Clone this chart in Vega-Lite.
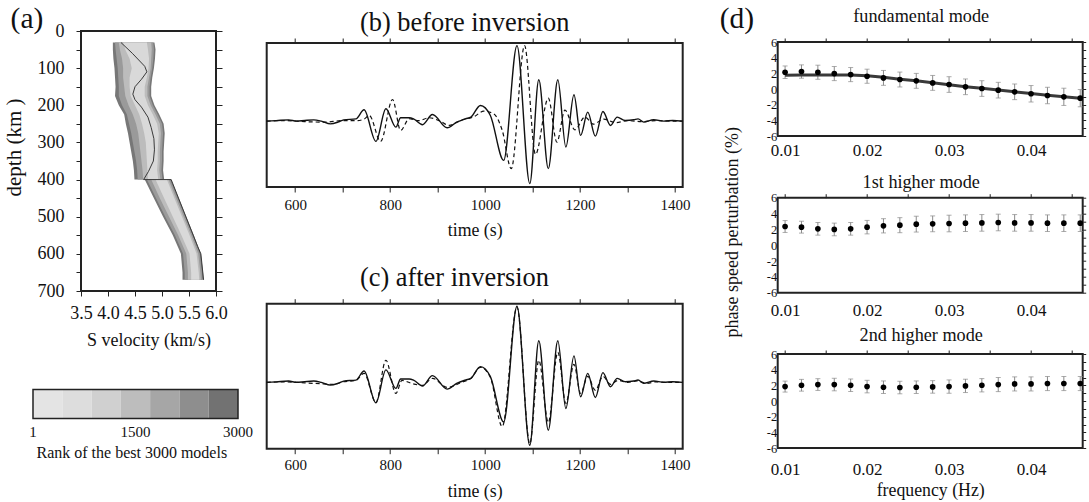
{
  "$schema": "https://vega.github.io/schema/vega-lite/v6.json",
  "background": "white",
  "padding": {"left": 2, "top": 0, "right": 0, "bottom": 0},
  "config": {
    "font": "Liberation Serif",
    "view": {"stroke": "#222", "strokeWidth": 2},
    "axis": {"domain": false, "grid": false, "labelFont": "Liberation Serif", "titleFont": "Liberation Serif", "labelColor": "#111", "titleColor": "#111", "tickColor": "#222", "titleFontWeight": "normal", "labelFlush": false, "labelOverlap": false, "tickWidth": 1},
    "title": {"font": "Liberation Serif", "fontWeight": "normal", "color": "#111"}
  },
  "datasets": {
    "obs": [{"t":540,"a":0},{"t":560,"a":0.5},{"t":586,"a":1.3},{"t":603,"a":0},{"t":620,"a":0.7},{"t":639,"a":1.3},{"t":655,"a":0},{"t":674,"a":-2.7},{"t":690,"a":-1},{"t":702,"a":1.3},{"t":728,"a":2.3},{"t":745,"a":11.4},{"t":770,"a":-20.3},{"t":791,"a":12.4},{"t":812,"a":-6},{"t":822,"a":3.4},{"t":840,"a":3.4},{"t":850,"a":2},{"t":868,"a":-3.6},{"t":889,"a":6.7},{"t":920,"a":-6.7},{"t":940,"a":-1},{"t":959,"a":2.4},{"t":970,"a":4},{"t":990,"a":15.7},{"t":1011,"a":5.7},{"t":1039,"a":-39.3},{"t":1067,"a":75.7},{"t":1094,"a":-62.6},{"t":1113,"a":41.4},{"t":1133,"a":-47.6},{"t":1153,"a":41.4},{"t":1170,"a":-26},{"t":1187,"a":26.4},{"t":1201,"a":-14.3},{"t":1216,"a":9},{"t":1232,"a":-15},{"t":1248,"a":9.7},{"t":1264,"a":-4.3},{"t":1278,"a":4},{"t":1295,"a":0.7},{"t":1313,"a":1.4},{"t":1322,"a":2.3},{"t":1334,"a":-1},{"t":1355,"a":1.4},{"t":1376,"a":0},{"t":1395,"a":0.7},{"t":1416,"a":0}],
    "synB": [{"t":540,"a":0},{"t":580,"a":0.5},{"t":620,"a":-0.5},{"t":660,"a":-1},{"t":700,"a":0.5},{"t":730,"a":0.5},{"t":745,"a":2},{"t":756,"a":5.7},{"t":780,"a":-20.3},{"t":805,"a":21.7},{"t":822,"a":-9.3},{"t":840,"a":2.4},{"t":860,"a":0.5},{"t":882,"a":3.4},{"t":905,"a":0},{"t":924,"a":-4.3},{"t":952,"a":1.4},{"t":975,"a":4},{"t":997,"a":10},{"t":1018,"a":7.4},{"t":1036,"a":-9.3},{"t":1055,"a":-47.6},{"t":1083,"a":75.7},{"t":1106,"a":-33.3},{"t":1133,"a":23},{"t":1151,"a":-21},{"t":1168,"a":11},{"t":1189,"a":-8.7},{"t":1210,"a":4},{"t":1228,"a":-3},{"t":1250,"a":2},{"t":1275,"a":-1.5},{"t":1300,"a":0.5},{"t":1330,"a":-0.5},{"t":1360,"a":0.5},{"t":1390,"a":0},{"t":1416,"a":0}],
    "synC": [{"t":540,"a":0},{"t":580,"a":0.5},{"t":620,"a":-0.5},{"t":660,"a":-1.5},{"t":680,"a":-2},{"t":700,"a":0.5},{"t":728,"a":2},{"t":745,"a":9},{"t":770,"a":-20},{"t":791,"a":22},{"t":812,"a":-11},{"t":825,"a":2},{"t":845,"a":-1},{"t":868,"a":-3},{"t":889,"a":4},{"t":920,"a":-5},{"t":950,"a":0},{"t":970,"a":4},{"t":990,"a":15},{"t":1011,"a":5},{"t":1036,"a":-44},{"t":1067,"a":75},{"t":1094,"a":-61},{"t":1113,"a":22},{"t":1133,"a":-40},{"t":1153,"a":30},{"t":1170,"a":-21},{"t":1187,"a":18},{"t":1201,"a":-11},{"t":1216,"a":6},{"t":1232,"a":-8},{"t":1248,"a":6},{"t":1264,"a":-2},{"t":1280,"a":2},{"t":1300,"a":0},{"t":1320,"a":1.5},{"t":1340,"a":-1},{"t":1360,"a":0.5},{"t":1390,"a":0},{"t":1416,"a":0}],
    "fan": [
      {"depth":31,"b1lo":4.09,"b1hi":4.86,"b2lo":4.13,"b2hi":4.84,"b3lo":4.2,"b3hi":4.8,"b4lo":4.28,"b4hi":4.72},
      {"depth":50,"b1lo":4.09,"b1hi":4.88,"b2lo":4.14,"b2hi":4.85,"b3lo":4.22,"b3hi":4.81,"b4lo":4.32,"b4hi":4.74},
      {"depth":75,"b1lo":4.1,"b1hi":4.87,"b2lo":4.16,"b2hi":4.84,"b3lo":4.26,"b3hi":4.8,"b4lo":4.4,"b4hi":4.76},
      {"depth":100,"b1lo":4.12,"b1hi":4.85,"b2lo":4.18,"b2hi":4.82,"b3lo":4.28,"b3hi":4.79,"b4lo":4.44,"b4hi":4.75},
      {"depth":125,"b1lo":4.13,"b1hi":4.82,"b2lo":4.19,"b2hi":4.79,"b3lo":4.28,"b3hi":4.76,"b4lo":4.4,"b4hi":4.72},
      {"depth":150,"b1lo":4.14,"b1hi":4.8,"b2lo":4.2,"b2hi":4.77,"b3lo":4.3,"b3hi":4.73,"b4lo":4.4,"b4hi":4.68},
      {"depth":175,"b1lo":4.13,"b1hi":4.8,"b2lo":4.2,"b2hi":4.77,"b3lo":4.32,"b3hi":4.73,"b4lo":4.42,"b4hi":4.68},
      {"depth":200,"b1lo":4.2,"b1hi":4.86,"b2lo":4.26,"b2hi":4.83,"b3lo":4.38,"b3hi":4.79,"b4lo":4.5,"b4hi":4.74},
      {"depth":225,"b1lo":4.3,"b1hi":4.95,"b2lo":4.35,"b2hi":4.92,"b3lo":4.46,"b3hi":4.88,"b4lo":4.58,"b4hi":4.83},
      {"depth":250,"b1lo":4.33,"b1hi":5.03,"b2lo":4.39,"b2hi":5.0,"b3lo":4.52,"b3hi":4.96,"b4lo":4.63,"b4hi":4.91},
      {"depth":275,"b1lo":4.37,"b1hi":5.05,"b2lo":4.43,"b2hi":5.02,"b3lo":4.56,"b3hi":4.98,"b4lo":4.67,"b4hi":4.94},
      {"depth":300,"b1lo":4.4,"b1hi":5.04,"b2lo":4.46,"b2hi":5.01,"b3lo":4.58,"b3hi":4.97,"b4lo":4.7,"b4hi":4.93},
      {"depth":325,"b1lo":4.43,"b1hi":5.03,"b2lo":4.49,"b2hi":5.0,"b3lo":4.6,"b3hi":4.96,"b4lo":4.71,"b4hi":4.92},
      {"depth":350,"b1lo":4.46,"b1hi":5.03,"b2lo":4.52,"b2hi":5.0,"b3lo":4.62,"b3hi":4.96,"b4lo":4.72,"b4hi":4.92},
      {"depth":375,"b1lo":4.48,"b1hi":5.02,"b2lo":4.54,"b2hi":4.99,"b3lo":4.64,"b3hi":4.95,"b4lo":4.73,"b4hi":4.91},
      {"depth":400,"b1lo":4.49,"b1hi":5.04,"b2lo":4.55,"b2hi":5.01,"b3lo":4.65,"b3hi":4.97,"b4lo":4.74,"b4hi":4.93},
      {"depth":400.01,"b1lo":4.68,"b1hi":5.17,"b2lo":4.72,"b2hi":5.15,"b3lo":4.8,"b3hi":5.12,"b4lo":4.88,"b4hi":5.09},
      {"depth":450,"b1lo":4.85,"b1hi":5.31,"b2lo":4.89,"b2hi":5.29,"b3lo":4.96,"b3hi":5.26,"b4lo":5.04,"b4hi":5.23},
      {"depth":500,"b1lo":5.02,"b1hi":5.45,"b2lo":5.06,"b2hi":5.43,"b3lo":5.13,"b3hi":5.4,"b4lo":5.2,"b4hi":5.37},
      {"depth":550,"b1lo":5.2,"b1hi":5.59,"b2lo":5.24,"b2hi":5.57,"b3lo":5.3,"b3hi":5.54,"b4lo":5.36,"b4hi":5.51},
      {"depth":600,"b1lo":5.35,"b1hi":5.72,"b2lo":5.39,"b2hi":5.7,"b3lo":5.45,"b3hi":5.67,"b4lo":5.51,"b4hi":5.64},
      {"depth":650,"b1lo":5.38,"b1hi":5.76,"b2lo":5.42,"b2hi":5.74,"b3lo":5.48,"b3hi":5.71,"b4lo":5.54,"b4hi":5.68},
      {"depth":670,"b1lo":5.38,"b1hi":5.77,"b2lo":5.42,"b2hi":5.75,"b3lo":5.48,"b3hi":5.72,"b4lo":5.54,"b4hi":5.69}
    ],
    "best": [{"k":1,"v":4.24,"depth":31},{"k":2,"v":4.45,"depth":60},{"k":3,"v":4.68,"depth":95},{"k":4,"v":4.72,"depth":110},{"k":5,"v":4.62,"depth":130},{"k":6,"v":4.5,"depth":150},{"k":7,"v":4.46,"depth":170},{"k":8,"v":4.5,"depth":185},{"k":9,"v":4.62,"depth":205},{"k":10,"v":4.74,"depth":232},{"k":11,"v":4.8,"depth":260},{"k":12,"v":4.85,"depth":290},{"k":13,"v":4.86,"depth":320},{"k":14,"v":4.84,"depth":350},{"k":15,"v":4.75,"depth":378},{"k":16,"v":4.66,"depth":400},{"k":17,"v":5.17,"depth":400},{"k":18,"v":5.66,"depth":580},{"k":19,"v":5.72,"depth":600},{"k":20,"v":5.77,"depth":670}],
    "bins": [{"bin":1,"lo":0,"hi":429},{"bin":2,"lo":429,"hi":857},{"bin":3,"lo":857,"hi":1286},{"bin":4,"lo":1286,"hi":1714},{"bin":5,"lo":1714,"hi":2143},{"bin":6,"lo":2143,"hi":2571},{"bin":7,"lo":2571,"hi":3000}],
    "ranklabels": [{"rank":1},{"rank":1500},{"rank":3000}],
    "fund": [{"f":0.010,"v":2.14,"err":0.8,"pred":1.75},{"f":0.012,"v":2.23,"err":0.85,"pred":1.78},{"f":0.014,"v":2.14,"err":0.9,"pred":1.8},{"f":0.016,"v":1.97,"err":0.9,"pred":1.8},{"f":0.018,"v":1.84,"err":0.9,"pred":1.8},{"f":0.020,"v":1.63,"err":0.9,"pred":1.7},{"f":0.022,"v":1.42,"err":0.95,"pred":1.5},{"f":0.024,"v":1.21,"err":0.95,"pred":1.25},{"f":0.026,"v":1.04,"err":0.95,"pred":1.05},{"f":0.028,"v":0.78,"err":0.95,"pred":0.8},{"f":0.030,"v":0.57,"err":1.0,"pred":0.55},{"f":0.032,"v":0.28,"err":1.0,"pred":0.3},{"f":0.034,"v":0.06,"err":1.0,"pred":0.1},{"f":0.036,"v":-0.15,"err":1.0,"pred":-0.12},{"f":0.038,"v":-0.36,"err":1.0,"pred":-0.35},{"f":0.040,"v":-0.61,"err":1.05,"pred":-0.57},{"f":0.042,"v":-0.83,"err":1.05,"pred":-0.8},{"f":0.044,"v":-1.0,"err":1.1,"pred":-0.98},{"f":0.046,"v":-1.17,"err":1.1,"pred":-1.17}],
    "m1": [{"f":0.010,"v":2.36,"err":0.75},{"f":0.012,"v":2.28,"err":0.75},{"f":0.014,"v":2.07,"err":0.8},{"f":0.016,"v":1.99,"err":0.8},{"f":0.018,"v":2.07,"err":0.8},{"f":0.020,"v":2.28,"err":0.85},{"f":0.022,"v":2.45,"err":0.9},{"f":0.024,"v":2.53,"err":0.95},{"f":0.026,"v":2.66,"err":1.0},{"f":0.028,"v":2.7,"err":1.0},{"f":0.030,"v":2.74,"err":1.05},{"f":0.032,"v":2.78,"err":1.05},{"f":0.034,"v":2.82,"err":1.05},{"f":0.036,"v":2.87,"err":1.05},{"f":0.038,"v":2.82,"err":1.05},{"f":0.040,"v":2.82,"err":1.05},{"f":0.042,"v":2.78,"err":1.05},{"f":0.044,"v":2.78,"err":1.05},{"f":0.046,"v":2.78,"err":1.05}],
    "m2": [{"f":0.010,"v":1.84,"err":0.7},{"f":0.012,"v":2.01,"err":0.75},{"f":0.014,"v":2.1,"err":0.75},{"f":0.016,"v":2.1,"err":0.8},{"f":0.018,"v":2.01,"err":0.8},{"f":0.020,"v":1.84,"err":0.8},{"f":0.022,"v":1.76,"err":0.8},{"f":0.024,"v":1.72,"err":0.8},{"f":0.026,"v":1.76,"err":0.8},{"f":0.028,"v":1.8,"err":0.8},{"f":0.030,"v":1.84,"err":0.85},{"f":0.032,"v":1.93,"err":0.85},{"f":0.034,"v":2.01,"err":0.85},{"f":0.036,"v":2.1,"err":0.9},{"f":0.038,"v":2.18,"err":0.9},{"f":0.040,"v":2.18,"err":0.9},{"f":0.042,"v":2.23,"err":0.9},{"f":0.044,"v":2.23,"err":0.9},{"f":0.046,"v":2.23,"err":0.9}]
  },
  "spacing": 9.7,
  "hconcat": [
    {
      "spacing": 37.5,
      "vconcat": [
        {
          "spacing": 0,
          "vconcat": [
            {"width": 1, "height": 0.5, "view": {"stroke": null}, "data": {"values": [{}]}, "mark": {"type": "point", "opacity": 0, "size": 1}},
            {
              "width": 135, "height": 260,
              "title": {"text": "(a)", "anchor": "start", "fontSize": 29.5, "dx": 7.6, "offset": -12},
              "data": {"name": "fan"},
              "layer": [
                {"mark": {"type": "area", "orient": "horizontal", "color": "#777777"},
                 "encoding": {
                   "y": {"field": "depth", "type": "quantitative", "scale": {"domain": [0, 700], "reverse": true, "nice": false},
                         "axis": {"orient": "left", "values": [0,50,100,150,200,250,300,350,400,450,500,550,600,650,700], "labelExpr": "datum.value % 100 === 0 ? datum.label : ''", "tickSize": 5, "labelPadding": 12, "labelFontSize": 18, "title": "depth (km )", "titleFontSize": 21, "titlePadding": 13, "titleY": 116}},
                   "x": {"field": "b1lo", "type": "quantitative", "stack": null, "scale": {"domain": [3.5, 6], "nice": false, "zero": false},
                         "axis": {"orient": "bottom", "values": [3.5,4,4.5,5,5.5,6], "format": ".1f", "tickSize": 5, "labelPadding": 8, "labelFontSize": 18, "title": "S velocity (km/s)", "titleFontSize": 18, "titlePadding": 9.4}},
                   "x2": {"field": "b1hi"}}},
                {"mark": {"type": "area", "orient": "horizontal", "color": "#9a9a9a"},
                 "encoding": {
                   "y": {"field": "depth", "type": "quantitative", "scale": {"domain": [0, 700], "reverse": true, "nice": false}, "axis": null},
                   "x": {"field": "b2lo", "type": "quantitative", "stack": null, "scale": {"domain": [3.5, 6], "nice": false, "zero": false}, "axis": null},
                   "x2": {"field": "b2hi"}}},
                {"mark": {"type": "area", "orient": "horizontal", "color": "#bcbcbc"},
                 "encoding": {
                   "y": {"field": "depth", "type": "quantitative", "scale": {"domain": [0, 700], "reverse": true, "nice": false}, "axis": null},
                   "x": {"field": "b3lo", "type": "quantitative", "stack": null, "scale": {"domain": [3.5, 6], "nice": false, "zero": false}, "axis": null},
                   "x2": {"field": "b3hi"}}},
                {"mark": {"type": "area", "orient": "horizontal", "color": "#d9d9d9"},
                 "encoding": {
                   "y": {"field": "depth", "type": "quantitative", "scale": {"domain": [0, 700], "reverse": true, "nice": false}, "axis": null},
                   "x": {"field": "b4lo", "type": "quantitative", "stack": null, "scale": {"domain": [3.5, 6], "nice": false, "zero": false}, "axis": null},
                   "x2": {"field": "b4hi"}}},
                {"data": {"name": "best"},
                 "mark": {"type": "line", "color": "#3a3a3a", "strokeWidth": 1},
                 "encoding": {
                   "y": {"field": "depth", "type": "quantitative", "scale": {"domain": [0, 700], "reverse": true, "nice": false},
                         "axis": {"orient": "right", "values": [0,50,100,150,200,250,300,350,400,450,500,550,600,650,700], "labels": false, "tickSize": 6, "title": null}},
                   "x": {"field": "v", "type": "quantitative", "scale": {"domain": [3.5, 6], "nice": false, "zero": false}, "axis": null},
                   "order": {"field": "k", "type": "quantitative"}}}
              ],
              "resolve": {"axis": {"x": "independent", "y": "independent"}}
            }
          ]
        },
        {
          "width": 157, "height": 29,
          "view": {"stroke": null},
          "layer": [
            {"data": {"name": "bins"},
             "mark": {"type": "rect"},
             "encoding": {
               "x": {"field": "lo", "type": "quantitative", "scale": {"domain": [702.44, 3000], "nice": false, "zero": false, "clamp": false},
                     "axis": {"orient": "bottom", "labels": false, "ticks": false, "title": "Rank of the best  3000 models", "titleFontSize": 16, "titleAnchor": "start", "titleX": -45, "titlePadding": 25.8}},
               "x2": {"field": "hi"},
               "color": {"field": "bin", "type": "ordinal", "scale": {"range": ["#e4e4e4", "#dddddd", "#d0d0d0", "#bdbdbd", "#a6a6a6", "#8e8e8e", "#727272"]}, "legend": null}}},
            {"data": {"name": "bins"},
             "transform": [{"aggregate": [{"op": "min", "field": "lo", "as": "lo"}, {"op": "max", "field": "hi", "as": "hi"}]}],
             "mark": {"type": "rect", "fillOpacity": 0, "stroke": "#222", "strokeWidth": 1.5},
             "encoding": {
               "x": {"field": "lo", "type": "quantitative", "scale": {"domain": [702.44, 3000], "nice": false, "zero": false, "clamp": false}, "axis": null},
               "x2": {"field": "hi"}}},
            {"data": {"name": "ranklabels"},
             "mark": {"type": "text", "baseline": "top", "dy": 20.8, "fontSize": 15, "font": "Liberation Serif", "color": "#111"},
             "encoding": {
               "x": {"field": "rank", "type": "quantitative", "scale": {"domain": [702.44, 3000], "nice": false, "zero": false, "clamp": false}, "axis": null},
               "text": {"field": "rank", "type": "quantitative", "format": "d"}}}
          ],
          "resolve": {"axis": {"x": "independent"}}
        }
      ]
    },
    {
      "spacing": 27,
      "hconcat": [
        {
          "spacing": 21.7,
          "vconcat": [
            {
              "spacing": 0,
              "vconcat": [
                {"width": 1, "height": 6.6, "view": {"stroke": null}, "data": {"values": [{}]}, "mark": {"type": "point", "opacity": 0, "size": 1}},
                {
                  "width": 416, "height": 144,
                  "title": {"text": "(b) before inversion", "anchor": "start", "dx": 96, "fontSize": 26.4, "offset": 1.6},
                  "layer": [
                    {"data": {"name": "obs"},
                     "mark": {"type": "line", "color": "#111", "strokeWidth": 1.4, "interpolate": "monotone"},
                     "encoding": {
                       "x": {"field": "t", "type": "quantitative", "scale": {"domain": [540, 1416], "nice": false, "zero": false},
                             "axis": {"orient": "bottom", "values": [600,700,800,900,1000,1100,1200,1300,1400], "labelExpr": "datum.value % 200 === 0 ? '' + datum.value : ''", "tickSize": 5, "labelPadding": 5, "labelFontSize": 15, "title": "time (s)", "titleFontSize": 17.8, "titlePadding": 9.4}},
                       "y": {"field": "a", "type": "quantitative", "scale": {"domain": [-66, 78.3], "nice": false}, "axis": null}}},
                    {"data": {"name": "synB"},
                     "mark": {"type": "line", "color": "#111", "strokeWidth": 1.2, "strokeDash": [4, 3], "interpolate": "monotone"},
                     "encoding": {
                       "x": {"field": "t", "type": "quantitative", "scale": {"domain": [540, 1416], "nice": false, "zero": false},
                             "axis": {"orient": "top", "values": [600,700,800,900,1000,1100,1200,1300,1400], "labels": false, "tickSize": 5, "title": null}},
                       "y": {"field": "a", "type": "quantitative", "scale": {"domain": [-66, 78.3], "nice": false}, "axis": null}}}
                  ],
                  "resolve": {"axis": {"x": "independent"}}
                }
              ]
            },
            {
              "width": 416, "height": 145,
              "title": {"text": "(c) after inversion", "anchor": "start", "dx": 96, "fontSize": 26.4, "offset": 7.3},
              "layer": [
                {"data": {"name": "obs"},
                 "mark": {"type": "line", "color": "#111", "strokeWidth": 1.4, "interpolate": "monotone"},
                 "encoding": {
                   "x": {"field": "t", "type": "quantitative", "scale": {"domain": [540, 1416], "nice": false, "zero": false},
                         "axis": {"orient": "bottom", "values": [600,700,800,900,1000,1100,1200,1300,1400], "labelExpr": "datum.value % 200 === 0 ? '' + datum.value : ''", "tickSize": 5, "labelPadding": 4, "labelFontSize": 15, "title": "time (s)", "titleFontSize": 17.8, "titlePadding": 10}},
                   "y": {"field": "a", "type": "quantitative", "scale": {"domain": [-66, 78.3], "nice": false}, "axis": null}}},
                {"data": {"name": "synC"},
                 "mark": {"type": "line", "color": "#111", "strokeWidth": 1.2, "strokeDash": [4, 3], "interpolate": "monotone"},
                 "encoding": {
                   "x": {"field": "t", "type": "quantitative", "scale": {"domain": [540, 1416], "nice": false, "zero": false},
                         "axis": {"orient": "top", "values": [600,700,800,900,1000,1100,1200,1300,1400], "labels": false, "tickSize": 5, "title": null}},
                   "y": {"field": "a", "type": "quantitative", "scale": {"domain": [-66, 78.3], "nice": false}, "axis": null}}}
              ],
              "resolve": {"axis": {"x": "independent"}}
            }
          ]
        },
        {
          "spacing": -35.3,
          "vconcat": [
            {
              "spacing": 0,
              "vconcat": [
                {"width": 1, "height": 0.5, "view": {"stroke": null}, "data": {"values": [{}]}, "mark": {"type": "point", "opacity": 0, "size": 1}},
                {
                  "width": 305, "height": 94,
                  "title": {"text": "(d)", "anchor": "start", "dx": -4, "fontSize": 29.5, "offset": -27.6},
                  "data": {"name": "fund"},
                  "layer": [
                    {"mark": {"type": "errorbar", "color": "#8a8a8a", "ticks": true, "thickness": 1},
                     "encoding": {
                       "x": {"field": "f", "type": "quantitative", "scale": {"domain": [0.0091, 0.0463], "nice": false, "zero": false},
                             "axis": {"orient": "top", "values": [0.01,0.015,0.02,0.025,0.03,0.035,0.04,0.045], "labels": false, "tickSize": 4, "title": "fundamental mode", "titleFontSize": 18.2, "titlePadding": 12, "titleX": 143}},
                       "y": {"field": "v", "type": "quantitative", "scale": {"domain": [-6, 6], "nice": false},
                             "axis": {"orient": "right", "values": [-6,-5,-4,-3,-2,-1,0,1,2,3,4,5,6], "labels": false, "tickSize": 3, "title": null}},
                       "yError": {"field": "err"}}},
                    {"mark": {"type": "line", "color": "#3a3a3a", "strokeWidth": 3},
                     "encoding": {
                       "x": {"field": "f", "type": "quantitative", "scale": {"domain": [0.0091, 0.0463], "nice": false, "zero": false}, "axis": null},
                       "y": {"field": "pred", "type": "quantitative", "scale": {"domain": [-6, 6], "nice": false}, "axis": null}}},
                    {"mark": {"type": "point", "filled": true, "color": "#000", "size": 32, "opacity": 1},
                     "encoding": {
                       "x": {"field": "f", "type": "quantitative", "scale": {"domain": [0.0091, 0.0463], "nice": false, "zero": false},
                             "axis": {"orient": "bottom", "values": [0.01,0.02,0.03,0.04], "format": ".2f", "ticks": false, "labelPadding": 6.3, "labelFontSize": 17, "title": null}},
                       "y": {"field": "v", "type": "quantitative", "scale": {"domain": [-6, 6], "nice": false},
                             "axis": {"orient": "left", "values": [-6,-4,-2,0,2,4,6], "labelExpr": "datum.value < 0 ? '-' + abs(datum.value) : '' + datum.value", "ticks": false, "labelPadding": 1, "labelFontSize": 12.5, "title": null, "minExtent": 54}}}}
                  ],
                  "resolve": {"axis": {"x": "independent", "y": "independent"}}
                }
              ]
            },
            {
              "spacing": -14.7,
              "vconcat": [
                {
                  "width": 305, "height": 95,
                  "data": {"name": "m1"},
                  "layer": [
                    {"mark": {"type": "errorbar", "color": "#8a8a8a", "ticks": true, "thickness": 1},
                     "encoding": {
                       "x": {"field": "f", "type": "quantitative", "scale": {"domain": [0.0091, 0.0463], "nice": false, "zero": false},
                             "axis": {"orient": "top", "values": [0.01,0.015,0.02,0.025,0.03,0.035,0.04,0.045], "labels": false, "tickSize": 4, "title": "1st higher mode", "titleFontSize": 18.2, "titlePadding": 1.4, "titleX": 143}},
                       "y": {"field": "v", "type": "quantitative", "scale": {"domain": [-6, 6], "nice": false},
                             "axis": {"orient": "right", "values": [-6,-5,-4,-3,-2,-1,0,1,2,3,4,5,6], "labels": false, "tickSize": 3, "title": null}},
                       "yError": {"field": "err"}}},
                    {"mark": {"type": "point", "filled": true, "color": "#000", "size": 32, "opacity": 1},
                     "encoding": {
                       "x": {"field": "f", "type": "quantitative", "scale": {"domain": [0.0091, 0.0463], "nice": false, "zero": false},
                             "axis": {"orient": "bottom", "values": [0.01,0.02,0.03,0.04], "format": ".2f", "ticks": false, "labelPadding": 9.7, "labelFontSize": 17, "title": null}},
                       "y": {"field": "v", "type": "quantitative", "scale": {"domain": [-6, 6], "nice": false},
                             "axis": {"orient": "left", "values": [-6,-4,-2,0,2,4,6], "labelExpr": "datum.value < 0 ? '-' + abs(datum.value) : '' + datum.value", "ticks": false, "labelPadding": 1, "labelFontSize": 12.5, "title": "phase speed perturbation (%)", "titleFontSize": 18, "titlePadding": 25, "titleY": 34}}}}
                  ],
                  "resolve": {"axis": {"x": "independent", "y": "independent"}}
                },
                {
                  "width": 305, "height": 94,
                  "data": {"name": "m2"},
                  "layer": [
                    {"mark": {"type": "errorbar", "color": "#8a8a8a", "ticks": true, "thickness": 1},
                     "encoding": {
                       "x": {"field": "f", "type": "quantitative", "scale": {"domain": [0.0091, 0.0463], "nice": false, "zero": false},
                             "axis": {"orient": "top", "values": [0.01,0.015,0.02,0.025,0.03,0.035,0.04,0.045], "labels": false, "tickSize": 4, "title": "2nd higher mode", "titleFontSize": 18.2, "titlePadding": 5, "titleX": 143}},
                       "y": {"field": "v", "type": "quantitative", "scale": {"domain": [-6, 6], "nice": false},
                             "axis": {"orient": "right", "values": [-6,-5,-4,-3,-2,-1,0,1,2,3,4,5,6], "labels": false, "tickSize": 3, "title": null}},
                       "yError": {"field": "err"}}},
                    {"mark": {"type": "point", "filled": true, "color": "#000", "size": 32, "opacity": 1},
                     "encoding": {
                       "x": {"field": "f", "type": "quantitative", "scale": {"domain": [0.0091, 0.0463], "nice": false, "zero": false},
                             "axis": {"orient": "bottom", "values": [0.01,0.02,0.03,0.04], "format": ".2f", "ticks": false, "labelPadding": 13.7, "labelFontSize": 17, "title": "frequency (Hz)", "titleFontSize": 17.8, "titlePadding": 3.3}},
                       "y": {"field": "v", "type": "quantitative", "scale": {"domain": [-6, 6], "nice": false},
                             "axis": {"orient": "left", "values": [-6,-4,-2,0,2,4,6], "labelExpr": "datum.value < 0 ? '-' + abs(datum.value) : '' + datum.value", "ticks": false, "labelPadding": 1, "labelFontSize": 12.5, "title": null, "minExtent": 54}}}}
                  ],
                  "resolve": {"axis": {"x": "independent", "y": "independent"}}
                }
              ]
            }
          ]
        }
      ]
    }
  ]
}
